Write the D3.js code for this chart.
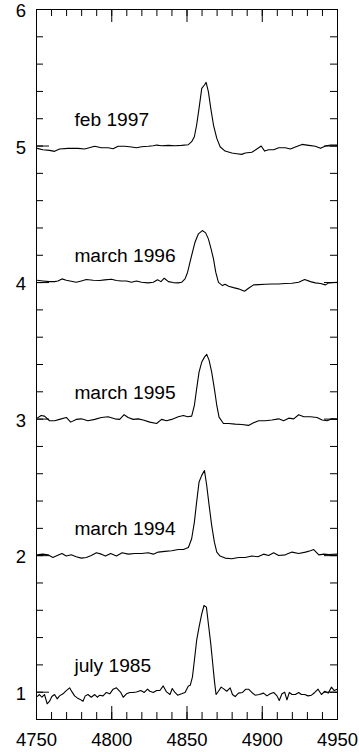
<!DOCTYPE html>
<html>
<head>
<meta charset="utf-8">
<script src="https://cdn.jsdelivr.net/npm/d3@7"></script>
<style>
body { margin: 0; background: #fff; }
svg { display: block; }
text { font-family: "Liberation Sans", Arial, sans-serif; font-size: 18.5px; fill: #000; }
text.epoch { font-size: 19.2px; }
.spec { fill: none; stroke: #000; stroke-width: 1.1; stroke-linejoin: round; }
.frame { fill: none; stroke: #000; stroke-width: 1; }
.tick line { stroke: #000; }
</style>
</head>
<body>
<div id="chart"></div>
<script>
// spectra: [wavelength, flux + offset]
var feb1997 = [
  [4750.4,4.983],[4754.2,4.973],[4758.7,4.968],[4762.0,4.961],[4765.3,4.978],[4770.9,4.983],
  [4777.6,4.983],[4782.0,4.978],[4788.7,4.998],[4793.1,4.988],[4797.6,4.988],[4800.9,4.980],
  [4804.2,4.998],[4808.7,4.998],[4813.1,4.993],[4816.4,4.988],[4819.8,4.995],[4824.2,4.998],
  [4827.6,5.002],[4829.8,5.007],[4833.1,5.002],[4837.6,5.005],[4842.0,5.002],[4846.4,5.005],
  [4850.9,5.010],[4853.1,5.032],[4854.9,5.068],[4856.4,5.154],[4858.0,5.276],[4859.8,5.422],
  [4861.6,5.447],[4862.7,5.466],[4864.2,5.398],[4865.8,5.276],[4867.6,5.154],[4869.8,5.056],
  [4872.0,4.995],[4875.3,4.963],[4879.8,4.949],[4883.1,4.944],[4886.4,4.939],[4888.7,4.949],
  [4893.1,4.954],[4896.4,4.978],[4899.3,5.000],[4901.6,4.963],[4904.2,4.973],[4907.6,4.973],
  [4910.9,4.988],[4915.3,4.988],[4918.7,4.978],[4922.0,4.993],[4926.4,5.012],[4930.9,5.005],
  [4935.3,4.998],[4938.7,4.983],[4942.0,5.000],[4945.3,5.007],[4949.8,5.007]
]

var march1996 = [
  [4750.4,4.017],[4754.2,4.012],[4758.7,4.007],[4762.0,4.007],[4764.2,4.012],[4766.9,4.027],
  [4769.8,4.017],[4773.1,4.010],[4776.4,4.002],[4779.8,4.012],[4783.1,4.022],[4787.6,4.017],
  [4792.0,4.015],[4795.3,4.020],[4799.8,4.024],[4803.1,4.015],[4806.4,4.012],[4809.8,4.012],
  [4813.1,4.002],[4816.4,4.012],[4819.8,4.002],[4824.2,3.998],[4827.6,4.002],[4830.4,4.020],
  [4832.7,4.007],[4834.9,4.032],[4837.6,4.007],[4840.9,4.000],[4844.2,3.998],[4846.4,4.002],
  [4848.7,4.027],[4850.4,4.076],[4852.0,4.149],[4853.6,4.222],[4855.3,4.295],[4857.6,4.357],
  [4860.2,4.381],[4862.4,4.364],[4864.2,4.320],[4866.0,4.247],[4867.6,4.173],[4869.1,4.076],
  [4870.9,4.002],[4873.6,3.978],[4875.3,3.988],[4877.6,3.973],[4880.9,3.963],[4884.2,3.954],
  [4888.2,3.937],[4890.9,3.958],[4894.2,3.983],[4897.6,3.985],[4902.0,3.988],[4906.4,3.990],
  [4910.9,3.990],[4915.3,3.993],[4919.8,3.995],[4924.2,4.002],[4928.2,4.022],[4932.0,4.007],
  [4935.3,3.998],[4938.7,3.993],[4942.0,3.983],[4944.2,3.998],[4949.8,4.002]
]

var march1995 = [
  [4750.4,3.007],[4753.1,3.027],[4755.3,3.022],[4758.7,2.988],[4762.0,2.988],[4765.3,2.998],
  [4769.8,3.012],[4772.7,2.978],[4776.4,2.998],[4779.8,3.002],[4784.2,2.988],[4788.7,2.998],
  [4793.1,3.012],[4797.6,3.017],[4802.0,3.002],[4805.3,2.998],[4808.2,3.032],[4810.9,3.012],
  [4814.2,2.998],[4817.6,3.002],[4820.9,2.993],[4825.3,2.978],[4829.8,2.968],[4833.1,2.998],
  [4836.4,2.988],[4839.8,2.998],[4844.2,3.017],[4847.6,3.027],[4850.4,3.017],[4853.1,3.022],
  [4854.9,3.100],[4856.4,3.222],[4858.0,3.344],[4859.8,3.418],[4861.6,3.454],[4863.1,3.474],
  [4864.7,3.430],[4866.4,3.344],[4868.2,3.222],[4869.8,3.100],[4871.3,3.015],[4874.2,2.968],
  [4877.6,2.968],[4882.0,2.963],[4886.4,2.961],[4890.9,2.954],[4894.2,2.973],[4897.6,2.988],
  [4902.0,2.988],[4906.4,2.993],[4910.9,3.002],[4914.2,2.988],[4917.6,3.007],[4920.9,3.002],
  [4924.2,3.032],[4927.6,3.017],[4932.0,3.017],[4936.4,3.012],[4939.8,2.993],[4943.1,2.988],
  [4946.4,3.002],[4949.8,2.998]
]

var march1994 = [
  [4750.4,2.006],[4754.2,2.011],[4757.6,2.006],[4760.9,1.987],[4763.8,2.001],[4766.9,2.016],
  [4769.8,1.997],[4773.1,2.006],[4776.4,1.992],[4779.8,1.982],[4783.1,1.987],[4786.4,2.001],
  [4789.8,2.021],[4793.1,2.011],[4795.8,1.997],[4799.3,2.016],[4803.1,1.997],[4806.9,2.021],
  [4810.9,2.011],[4815.3,2.016],[4819.8,2.016],[4824.2,2.021],[4827.6,2.011],[4830.9,2.026],
  [4835.3,2.031],[4839.8,2.036],[4844.2,2.045],[4847.6,2.045],[4850.9,2.060],[4853.1,2.124],
  [4854.9,2.246],[4856.4,2.392],[4858.0,2.539],[4859.8,2.588],[4861.6,2.624],[4863.1,2.514],
  [4864.7,2.368],[4866.4,2.222],[4868.2,2.099],[4869.8,2.026],[4872.0,1.997],[4875.3,1.982],
  [4879.8,1.977],[4884.2,1.987],[4888.7,1.987],[4893.1,1.997],[4897.1,1.992],[4900.9,2.011],
  [4904.2,2.001],[4907.6,2.021],[4910.9,2.001],[4915.3,2.006],[4919.8,2.026],[4924.2,2.016],
  [4928.7,2.026],[4932.0,2.036],[4934.2,2.045],[4937.6,2.006],[4940.9,2.011],[4944.2,2.009],
  [4949.8,2.011]
]

var july1985 = [
  [4750.4,0.968],[4752.0,0.983],[4753.6,0.963],[4755.3,0.983],[4757.1,0.915],[4758.7,0.934],
  [4760.2,0.968],[4762.0,0.983],[4763.8,0.951],[4765.3,0.973],[4767.6,0.988],[4769.8,1.012],
  [4772.0,1.032],[4773.6,1.002],[4775.3,0.973],[4777.1,0.958],[4778.7,0.949],[4780.9,0.934],
  [4782.4,0.973],[4784.2,0.983],[4786.4,0.963],[4788.7,0.983],[4790.4,0.963],[4792.0,0.978],
  [4794.2,0.973],[4796.4,0.998],[4798.7,0.988],[4800.9,1.022],[4803.1,1.032],[4806.0,0.998],
  [4807.6,0.963],[4809.8,0.988],[4812.0,0.998],[4814.2,0.998],[4816.4,1.002],[4819.3,1.012],
  [4821.6,0.998],[4823.8,1.022],[4825.3,1.007],[4827.6,0.998],[4829.8,1.012],[4832.0,1.012],
  [4834.2,1.046],[4836.4,1.002],[4838.7,0.983],[4840.2,1.027],[4842.0,0.998],[4843.8,0.978],
  [4846.4,0.988],[4848.7,0.998],[4850.9,1.046],[4852.2,1.051],[4853.6,1.110],[4854.9,1.232],
  [4856.4,1.379],[4858.0,1.476],[4859.8,1.574],[4861.3,1.635],[4862.9,1.623],[4864.2,1.501],
  [4865.8,1.354],[4867.1,1.208],[4868.2,1.085],[4869.3,0.983],[4870.9,1.007],[4872.7,1.037],
  [4874.4,1.024],[4876.4,1.007],[4878.7,1.032],[4880.2,0.983],[4882.0,0.968],[4884.2,0.993],
  [4886.9,0.998],[4889.1,1.022],[4890.9,1.022],[4893.1,0.998],[4895.3,0.978],[4898.0,0.983],
  [4900.9,0.993],[4903.1,0.973],[4905.3,0.988],[4907.6,0.998],[4909.8,0.973],[4911.3,0.939],
  [4913.1,0.988],[4914.9,1.000],[4916.4,0.944],[4918.0,0.998],[4919.8,0.983],[4922.0,0.983],
  [4924.2,0.998],[4926.0,0.983],[4928.2,0.983],[4930.4,0.973],[4932.7,0.978],[4934.9,0.998],
  [4937.1,1.022],[4939.3,0.983],[4941.6,1.007],[4943.8,0.993],[4946.0,1.037],[4947.8,1.012],
  [4949.8,1.022]
]

var spectra = [july1985, march1994, march1995, march1996, feb1997]
var epochs = ['july 1985', 'march 1994', 'march 1995', 'march 1996', 'feb 1997']
var levels = [1, 2, 3, 4, 5]

var xMajor = [4750, 4800, 4850, 4900, 4950]
var xMinor = d3.range(4750, 4951, 10)
var yMajor = [1, 2, 3, 4, 5, 6]
var yMinor = d3.range(4, 31).map(function(d){ return d / 5 })

var W = 359, H = 752
// plot box edges (window.top is read-only, so no bare `top`)
var pL = 36, pR = 337, pT = 9, pB = 719

var svg = d3.select('#chart').append('svg').attr('width', W).attr('height', H)

var x = d3.scaleLinear().domain([4750, 4950]).range([pL, pR])
var y = d3.scaleLinear().domain([0.8, 6]).range([pB, pT])

function addAxis(axis, tx, ty, labelled){
  var g = svg.append('g').attr('transform', 'translate(' + tx + ',' + ty + ')').call(axis)
  g.select('.domain').remove()
  if (!labelled) g.selectAll('text').remove()
  return g
}

// minor ticks, all four sides, pointing inward
addAxis(d3.axisBottom(x).tickValues(xMinor).tickSize(-7), 0, pB, false)
addAxis(d3.axisTop(x).tickValues(xMinor).tickSize(-7), 0, pT, false)
addAxis(d3.axisLeft(y).tickValues(yMinor).tickSize(-7), pL, 0, false)
addAxis(d3.axisRight(y).tickValues(yMinor).tickSize(-7), pR, 0, false)

// major ticks
addAxis(d3.axisBottom(x).tickValues(xMajor).tickSize(-13).tickPadding(14).tickFormat(d3.format('d')), 0, pB, true)
addAxis(d3.axisTop(x).tickValues(xMajor).tickSize(-13), 0, pT, false)
addAxis(d3.axisLeft(y).tickValues(yMajor).tickSize(-13).tickPadding(10).tickFormat(d3.format('d')), pL, 0, true)
  .selectAll('text').attr('dy', '0.42em')
addAxis(d3.axisRight(y).tickValues(yMajor).tickSize(-13), pR, 0, false)

svg.append('rect').attr('class', 'frame')
  .attr('x', pL + 0.5).attr('y', pT + 0.5)
  .attr('width', pR - pL).attr('height', pB - pT)

var line = d3.line()
  .x(function(d){ return x(d[0]) + 0.5 })
  .y(function(d){ return y(d[1]) + 0.5 })

svg.selectAll('path.spec').data(spectra).enter().append('path')
  .attr('class', 'spec')
  .attr('d', line)

svg.selectAll('text.epoch').data(epochs).enter().append('text')
  .attr('class', 'epoch')
  .attr('x', x(4775.5))
  .attr('y', function(d, i){ return y(levels[i] + 0.145) })
  .text(function(d){ return d })
</script>
</body>
</html>
